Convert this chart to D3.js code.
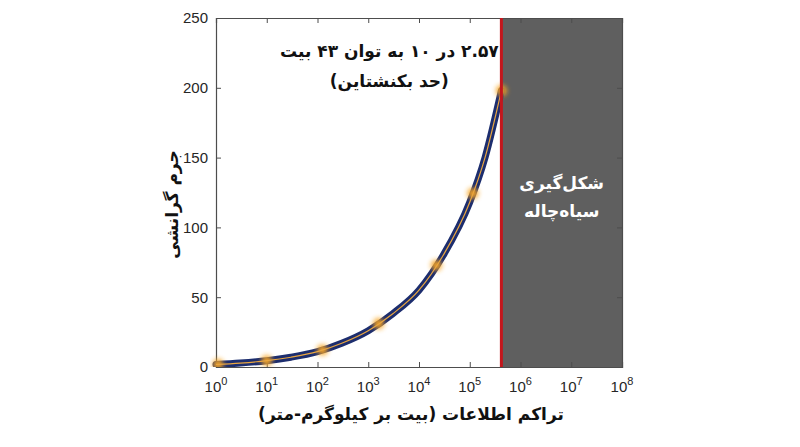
<!DOCTYPE html>
<html>
<head>
<meta charset="utf-8">
<script src="https://cdn.jsdelivr.net/npm/d3@7"></script>
<style>
  body { margin: 0; background: #fff; }
  svg { display: block; }
</style>
</head>
<body>
<div id="chart"></div>
<script>
// information density (bits per kg-m) vs gravitational mass
const density = [1, 3, 10, 30, 100, 300, 1000, 3000, 10000, 30000, 100000, 200000, 420000];
const mass    = [1.8, 2.8, 4.5, 7, 11, 17, 26, 38, 55, 80, 118, 150, 198];
// where the bright spots sit on the curve
const glowAt  = [1.1, 10, 125, 1600, 22000, 115000, 420000];
const limit = 420000;   // Bekenstein bound
const yTicks = [0, 50, 100, 150, 200, 250];
const xTicks = [0, 1, 2, 3, 4, 5, 6, 7, 8];

const labelTop1 = '۲.۵۷ در ۱۰ به توان ۴۳ بیت';
const labelTop2 = '(حد بکنشتاین)';
const labelBH1 = 'شکل‌گیری';
const labelBH2 = 'سیاه‌چاله';
const xTitle = 'تراکم اطلاعات (بیت بر کیلوگرم-متر)';
const yTitle = 'جرم گرانشی';

var svgwidth = 800;
var svgheight = 447;
var m = { left: 216, top: 18, right: 178, bottom: 80 };
var w = svgwidth - m.left - m.right;
var h = svgheight - m.top - m.bottom;

var faFont = "'DejaVu Sans', sans-serif";
var numFont = "'Liberation Sans', Arial, sans-serif";

var svg = d3.select('#chart').append('svg')
    .attr('width', svgwidth)
    .attr('height', svgheight);

var defs = svg.append('defs');
defs.append('filter').attr('id', 'glow')
    .attr('x', '-100%').attr('y', '-100%').attr('width', '300%').attr('height', '300%')
    .append('feGaussianBlur').attr('stdDeviation', 2.6);
defs.append('clipPath').attr('id', 'plotclip')
    .append('rect').attr('x', -6).attr('width', w + 6).attr('height', h);

var g = svg.append('g').attr('transform', 'translate(' + m.left + ',' + m.top + ')');

var x = d3.scaleLog().domain([1, 1e8]).range([0, w]);
var y = d3.scaleLinear().domain([0, 250]).range([h, 0]);

// black hole region
g.append('rect')
    .attr('x', x(limit))
    .attr('y', 0)
    .attr('width', w - x(limit))
    .attr('height', h)
    .attr('fill', '#5f5f5f');

// axes (MATLAB style ticks pointing in, box on)
var axisColor = '#4d4d4d';
var xaxis = d3.axisBottom(x).tickValues(xTicks.map(d => Math.pow(10, d))).tickSize(-5).tickFormat('');
var xaxisTop = d3.axisTop(x).tickValues(xTicks.map(d => Math.pow(10, d))).tickSize(-5).tickFormat('');
var yaxis = d3.axisLeft(y).tickValues(yTicks).tickSize(-5).tickPadding(8);
var yaxisRight = d3.axisRight(y).tickValues(yTicks).tickSize(-5).tickFormat('');

g.append('g').attr('transform', 'translate(0,' + h + ')').call(xaxis);
g.append('g').call(xaxisTop);
g.append('g').attr('class', 'yax').call(yaxis);
g.append('g').attr('transform', 'translate(' + w + ',0)').call(yaxisRight);

g.selectAll('.domain').attr('stroke', axisColor).attr('stroke-width', 1.2);
g.selectAll('.tick line').attr('stroke', axisColor).attr('stroke-width', 1);
g.selectAll('.yax .tick text')
    .attr('font-family', numFont)
    .attr('font-size', 15)
    .attr('fill', '#262626');

// x tick labels with superscript exponents
var xl = g.append('g').attr('transform', 'translate(0,' + (h + 25) + ')');
xTicks.forEach(function (d) {
    var t = xl.append('text')
        .attr('x', x(Math.pow(10, d)))
        .attr('text-anchor', 'middle')
        .attr('font-family', numFont)
        .attr('font-size', 15)
        .attr('fill', '#262626');
    t.append('tspan').text('10');
    t.append('tspan').attr('dy', -7).attr('font-size', 11).text(d);
});

// curve
var pts = density.map((d, i) => [d, mass[i]]);
var line = d3.line()
    .x(d => x(d[0]))
    .y(d => y(d[1]))
    .curve(d3.curveMonotoneX);

var curveG = g.append('g').attr('clip-path', 'url(#plotclip)');
curveG.append('path')
    .datum(pts)
    .attr('d', line)
    .attr('fill', 'none')
    .attr('stroke', '#1c2d6e')
    .attr('stroke-width', 7)
    .attr('stroke-linecap', 'round');

var massAt = d3.scaleLog().domain(density).range(mass);
curveG.selectAll('.glow')
    .data(glowAt)
    .enter().append('circle')
    .attr('cx', d => x(d))
    .attr('cy', d => y(massAt(d)))
    .attr('r', 5.5)
    .attr('fill', '#f8a522')
    .attr('opacity', 0.95)
    .attr('filter', 'url(#glow)');

curveG.append('path')
    .datum(pts)
    .attr('d', line)
    .attr('fill', 'none')
    .attr('stroke', '#e9a640')
    .attr('stroke-width', 1.2);

// Bekenstein limit line
g.append('line')
    .attr('x1', x(limit)).attr('x2', x(limit))
    .attr('y1', 0).attr('y2', h)
    .attr('stroke', '#c4161c')
    .attr('stroke-width', 3);

// annotations
var ann = g.append('text')
    .attr('text-anchor', 'middle')
    .attr('font-family', faFont)
    .attr('font-weight', 'bold')
    .attr('font-size', 17)
    .attr('fill', '#111')
    .attr('direction', 'rtl');
ann.append('tspan').attr('x', x(limit) - 112).attr('y', 39).text(labelTop1);
ann.append('tspan').attr('x', x(limit) - 112).attr('y', 69).text(labelTop2);

var bh = g.append('text')
    .attr('text-anchor', 'middle')
    .attr('font-family', faFont)
    .attr('font-weight', 'bold')
    .attr('font-size', 17)
    .attr('fill', '#fff')
    .attr('direction', 'rtl');
var bhx = (x(limit) + w) / 2;
bh.append('tspan').attr('x', bhx).attr('y', 171).text(labelBH1);
bh.append('tspan').attr('x', bhx).attr('y', 199).text(labelBH2);

// axis titles
svg.append('text')
    .attr('x', 411)
    .attr('y', 420)
    .attr('text-anchor', 'middle')
    .attr('font-family', faFont)
    .attr('font-weight', 'bold')
    .attr('font-size', 17)
    .attr('fill', '#111')
    .attr('direction', 'rtl')
    .text(xTitle);

svg.append('text')
    .attr('transform', 'translate(178,' + (m.top + h / 2 + 12) + ') rotate(-90)')
    .attr('text-anchor', 'middle')
    .attr('font-family', faFont)
    .attr('font-weight', 'bold')
    .attr('font-size', 17)
    .attr('fill', '#111')
    .attr('direction', 'rtl')
    .text(yTitle);
</script>
</body>
</html>
